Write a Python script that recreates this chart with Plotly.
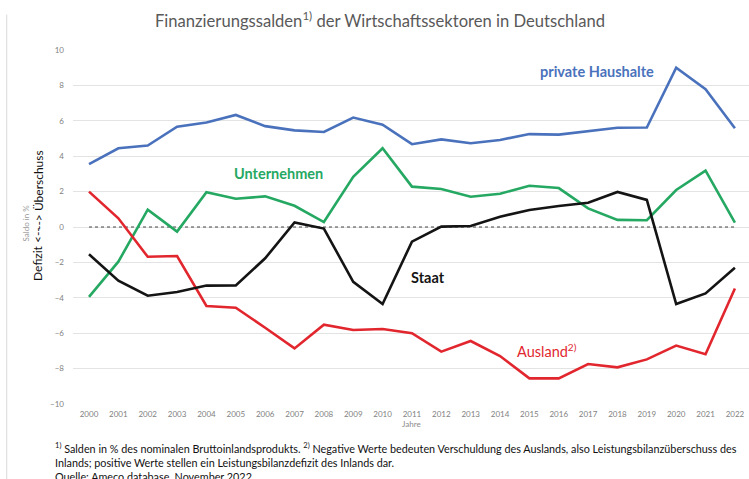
import plotly.graph_objects as go

jahre = list(range(2000, 2023))

private_haushalte = [3.55, 4.45, 4.6, 5.67, 5.9, 6.33, 5.7, 5.46, 5.37, 6.18, 5.78, 4.68,
                     4.95, 4.73, 4.92, 5.25, 5.22, 5.41, 5.61, 5.62, 9.0, 7.78, 5.58]
unternehmen = [-3.95, -1.96, 0.98, -0.26, 1.96, 1.6, 1.73, 1.2, 0.28, 2.84, 4.45, 2.28,
               2.15, 1.71, 1.88, 2.33, 2.2, 1.05, 0.4, 0.38, 2.09, 3.18, 0.25]
staat = [-1.54, -3.03, -3.88, -3.67, -3.31, -3.3, -1.77, 0.26, -0.09, -3.1, -4.35, -0.83,
         0.02, 0.06, 0.58, 0.96, 1.19, 1.37, 1.98, 1.53, -4.35, -3.75, -2.3]
ausland = [2.0, 0.49, -1.68, -1.64, -4.46, -4.56, -5.69, -6.86, -5.52, -5.82, -5.76, -6.0,
           -7.04, -6.44, -7.29, -8.55, -8.55, -7.74, -7.93, -7.48, -6.7, -7.19, -3.47]

y_ticks = [-10, -8, -6, -4, -2, 0, 2, 4, 6, 8, 10]

FONT = "Lato"
BLUE = "#4A72BC"
GREEN = "#25A862"
RED = "#E2262E"
BLACK = "#141414"

fig = go.Figure()

# zero line (dotted) drawn as its own trace
fig.add_trace(go.Scatter(x=[jahre[0], jahre[-1]], y=[0, 0], mode="lines",
                         line=dict(color="#444444", width=1, dash="dot"),
                         hoverinfo="skip", showlegend=False))

for name, vals, col in [("private Haushalte", private_haushalte, BLUE),
                        ("Unternehmen", unternehmen, GREEN),
                        ("Ausland", ausland, RED),
                        ("Staat", staat, BLACK)]:
    fig.add_trace(go.Scatter(x=jahre, y=vals, mode="lines", name=name,
                             line=dict(color=col, width=2.6), showlegend=False))

# series labels
labels = [
    (2017.3, 8.76, "private Haushalte", BLUE, "bold"),
    (2006.47, 3.0, "Unternehmen", GREEN, "bold"),
    (2011.55, -2.88, "Staat", BLACK, "bold"),
    (2015.6, -7.0, "Ausland<sup>2)</sup>", RED, "normal"),
]
for x, y, txt, col, w in labels:
    fig.add_annotation(x=x, y=y, text=txt, showarrow=False, xanchor="center", yanchor="middle",
                       font=dict(family=FONT, size=14.5, color=col, weight=w))

# titles and footnotes
fig.add_annotation(xref="paper", yref="paper", x=0.454, y=1, yshift=30, xanchor="center", yanchor="middle",
                   text="Finanzierungssalden<sup>1)</sup> der Wirtschaftssektoren in Deutschland",
                   showarrow=False, font=dict(family=FONT, size=16.6, color="#595959"))
fig.add_annotation(xref="paper", yref="paper", x=0, xshift=-47, xanchor="center", y=0.51, textangle=-90,
                   text="Saldo in %", showarrow=False, font=dict(family=FONT, size=8, color="#9a9a9a"))
# vertical axis caption in two parts (a single long rotated annotation gets displaced)
fig.add_annotation(xref="paper", yref="paper", x=0, xshift=-35, xanchor="center",
                   y=0.342, yanchor="bottom", textangle=-90,
                   text="Defizit <--", showarrow=False,
                   font=dict(family=FONT, size=12, color="#111111"))
fig.add_annotation(xref="paper", yref="paper", x=0, xshift=-35, xanchor="center",
                   y=0.723, yanchor="top", textangle=-90,
                   text="--> Überschuss", showarrow=False,
                   font=dict(family=FONT, size=12, color="#111111"))
fig.add_annotation(xref="paper", yref="paper", x=0.5, y=0, yshift=-27, text="Jahre",
                   showarrow=False, font=dict(family=FONT, size=8, color="#8a8a8a"))
fig.add_annotation(xref="paper", yref="paper", x=-0.03, xanchor="left", y=0, yshift=-58, yanchor="middle",
                   align="left", showarrow=False,
                   text="<sup>1)</sup> Salden in % des nominalen Bruttoinlandsprodukts. <sup>2)</sup> Negative Werte bedeuten Verschuldung des Auslands, also Leistungsbilanzüberschuss des<br>"
                        "Inlands; positive Werte stellen ein Leistungsbilanzdefizit des Inlands dar.<br>"
                        "Quelle: Ameco database, November 2022.",
                   font=dict(family=FONT, size=10.8, color="#111111"))

# left border line of the chart area
fig.add_shape(type="line", xref="paper", yref="paper", x0=-0.098, x1=-0.098, y0=1.1, y1=-0.3,
              line=dict(color="#d9d9d9", width=1))

fig.update_layout(
    width=749, height=479,
    margin=dict(l=73, r=0, t=50, b=75),
    plot_bgcolor="white", paper_bgcolor="white",
    font=dict(family=FONT, color="#7f7f7f"),
    xaxis=dict(range=[1999.455, 2022.48], tickvals=jahre, ticktext=[str(j) for j in jahre],
               showgrid=False, zeroline=False, showline=False, automargin=False,
               tickfont=dict(size=8, color="#7f7f7f"), ticks="", ticklabelstandoff=4),
    yaxis=dict(range=[-10, 10], tickvals=y_ticks, showgrid=True, gridcolor="#e3e3e3",
               gridwidth=1, zeroline=False, showline=False, ticklabelstandoff=8,
               automargin=False, tickfont=dict(size=8, color="#7f7f7f")),
)

fig.write_html("out.html", config={"displayModeBar": False},
               post_script="document.body.style.margin='0';")
